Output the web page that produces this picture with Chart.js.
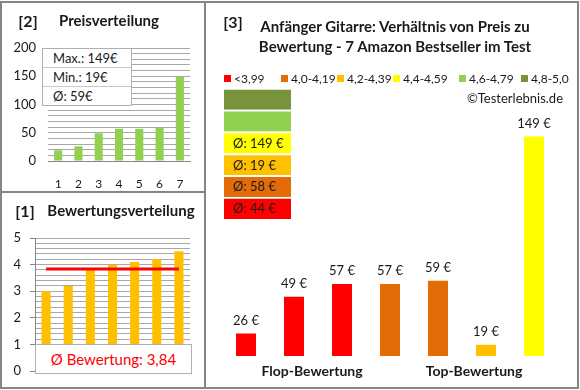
<!DOCTYPE html>
<html>
<head>
<meta charset="utf-8">
<script src="https://cdn.jsdelivr.net/npm/chart.js@4/dist/chart.umd.min.js"></script>
<style>
  body { margin: 0; background: #fff; font-family: Lato, 'Open Sans', sans-serif; color: #1a1a1a; }
  #wrap { position: relative; width: 580px; height: 390px; overflow: hidden; }
  .abs { position: absolute; }
  .line { position: absolute; background: #858585; }
  .h { font-weight: bold; font-size: 15px; white-space: nowrap; }
  .c { transform: translate(-50%, -50%); }
  #infoBox { left: 42px; top: 48px; width: 88px; background: #fff; border: 1px solid #b0b0b0; font-size: 13px; }
  #infoBox div { height: 18px; line-height: 18px; padding-left: 10px; border-top: 1px solid #c8c8c8; }
  #infoBox div:first-child { border-top: none; }
  #avgBox { left: 35px; top: 344px; width: 155px; height: 28px; background: #fff; border: 1px solid #b0b0b0;
            color: #ff0000; font-size: 15px; text-align: center; line-height: 28px; }
  .lg { position: absolute; top: 71px; font-size: 12px; white-space: nowrap; }
  .lg span { display: inline-block; width: 7px; height: 7px; margin-right: 3px; vertical-align: 1px; }
</style>
</head>
<body>
<div id="wrap">
  <canvas id="priceChart" class="abs" width="204" height="191" style="left:0;top:0"></canvas>
  <canvas id="ratingChart" class="abs" width="204" height="195" style="left:0;top:193px"></canvas>
  <canvas id="mainChart" class="abs" width="370" height="384" style="left:207px;top:3px"></canvas>
  <canvas id="bandChart" class="abs" width="67" height="131" style="left:224px;top:88px"></canvas>

  <div class="line" style="left:1px;top:1px;width:578px;height:2px"></div>
  <div class="line" style="left:1px;top:387px;width:578px;height:2px"></div>
  <div class="line" style="left:0;top:1px;width:2px;height:388px"></div>
  <div class="line" style="left:577px;top:1px;width:2px;height:388px"></div>
  <div class="line" style="left:204px;top:1px;width:2px;height:388px"></div>
  <div class="line" style="left:1px;top:191px;width:204px;height:2px"></div>

  <div class="abs h c" style="left:28px;top:20px;font-size:16px">[2]</div>
  <div class="abs h c" style="left:109px;top:20px">Preisverteilung</div>
  <div class="abs h c" style="left:25px;top:210px;font-size:16px">[1]</div>
  <div class="abs h c" style="left:121px;top:210px">Bewertungsverteilung</div>
  <div class="abs h c" style="left:233px;top:21px;font-size:16px">[3]</div>
  <div class="abs h c" style="left:395px;top:26px">Anfänger Gitarre: Verhältnis von Preis zu</div>
  <div class="abs h c" style="left:395px;top:46px">Bewertung - 7 Amazon Bestseller im Test</div>
  <div class="abs" style="right:17px;top:90px;font-size:13px">©Testerlebnis.de</div>
  <div class="abs h c" style="left:312px;top:370px;font-size:14px">Flop-Bewertung</div>
  <div class="abs h c" style="left:474px;top:370px;font-size:14px">Top-Bewertung</div>

  <div id="infoBox" class="abs"></div>
  <div id="avgBox" class="abs"></div>
  <div id="legend"></div>
</div>

<script>
// products sorted by rating (flop -> top)
const prices = [26, 49, 57, 57, 59, 19, 149];
const ratings = [3.0, 3.2, 3.8, 4.0, 4.1, 4.2, 4.5];
const avgRating = 3.84;

// price distribution (sorted ascending)
const priceLabels = ['1', '2', '3', '4', '5', '6', '7'];
const pricesSorted = [19, 26, 49, 57, 57, 59, 149];
const priceStats = ['Max.: 149€', 'Min.: 19€', 'Ø: 59€'];

// rating bands
const bandLabels = ['<3,99', '4,0-4,19', '4,2-4,39', '4,4-4,59', '4,6-4,79', '4,8-5,0'];
const bandLimits = [4.0, 4.2, 4.4, 4.6, 4.8, 5.01];
const bandColors = ['#ff0000', '#e36c09', '#ffc000', '#ffff00', '#92d050', '#77933c'];
const bandAvgPrice = [44, 58, 19, 149, null, null];

const gridGray = '#a8a8a8';
const axisGray = '#868686';
const textColor = '#1a1a1a';
const font = 'Lato';
const legendLeft = [224, 281, 337, 393, 459, 521];

Chart.defaults.font.family = font;
Chart.defaults.color = textColor;
Chart.defaults.animation = false;
Chart.defaults.responsive = false;
Chart.defaults.plugins.legend.display = false;
Chart.defaults.plugins.tooltip.enabled = false;

const near = (v) => Math.abs(v - Math.round(v)) < 1e-6;

// html bits
document.getElementById('infoBox').innerHTML = priceStats.map((s) => `<div>${s}</div>`).join('');
document.getElementById('avgBox').textContent = `Ø Bewertung: ${avgRating.toFixed(2).replace('.', ',')}`;
document.getElementById('legend').innerHTML = bandLabels.map((l, i) =>
  `<div class="lg" style="left:${legendLeft[i]}px"><span style="background:${bandColors[i]}"></span>${l}</div>`).join('');

// [2] Preisverteilung
new Chart(document.getElementById('priceChart'), {
  type: 'bar',
  data: { labels: priceLabels, datasets: [{ data: pricesSorted, backgroundColor: '#92d050', barPercentage: 0.4, categoryPercentage: 1 }] },
  options: {
    devicePixelRatio: 1,
    layout: { padding: { top: 48, right: 14, left: 0, bottom: 0 } },
    scales: {
      x: {
        grid: { display: false }, border: { color: axisGray, width: 1 },
        ticks: { padding: 8, font: { size: 12 } },
        afterFit: (s) => { s.height = 30; }
      },
      y: {
        min: 0, max: 200,
        grid: { color: gridGray, drawTicks: false },
        border: { display: false },
        ticks: { stepSize: 10, autoSkip: false, padding: 12, font: { size: 13 },
                 callback: (v) => (v % 50 === 0 ? v : '') },
        afterFit: (s) => { s.width = 48; }
      }
    }
  }
});

// [1] Bewertungsverteilung
new Chart(document.getElementById('ratingChart'), {
  type: 'bar',
  data: {
    labels: priceLabels,
    datasets: [
      { type: 'line', data: ratings.map(() => avgRating), borderColor: '#ff0000', borderWidth: 3, pointRadius: 0 },
      { data: ratings, backgroundColor: '#ffc000', barPercentage: 0.41, categoryPercentage: 1 }
    ]
  },
  options: {
    devicePixelRatio: 1,
    layout: { padding: { top: 45, right: 14, left: 0, bottom: 15 } },
    scales: {
      x: { display: false },
      y: {
        min: 0, max: 5,
        grid: { color: gridGray, tickLength: 5, tickColor: (c) => (near(c.tick.value) ? axisGray : 'rgba(0,0,0,0)') },
        border: { color: axisGray },
        ticks: { stepSize: 0.2, autoSkip: false, padding: 9, font: { size: 13 },
                 callback: (v) => (near(v) ? Math.round(v) : '') },
        afterFit: (s) => { s.width = 35; }
      }
    }
  }
});

// [3] Preis zu Bewertung
const barLabels = {
  id: 'barLabels',
  afterDatasetsDraw(chart) {
    const ctx = chart.ctx;
    ctx.save();
    ctx.font = `13px ${font}`;
    ctx.fillStyle = textColor;
    ctx.textAlign = 'center';
    ctx.textBaseline = 'middle';
    chart.getDatasetMeta(0).data.forEach((bar, i) => {
      ctx.fillText(`${prices[i]} €`, bar.x, bar.y - 13);
    });
    ctx.restore();
  }
};

const colorFor = (r) => bandColors[bandLimits.findIndex((lim) => r < lim)];

new Chart(document.getElementById('mainChart'), {
  type: 'bar',
  data: {
    labels: prices.map((p, i) => String(i + 1)),
    datasets: [{ data: prices, backgroundColor: ratings.map(colorFor), barPercentage: 0.417, categoryPercentage: 1 }]
  },
  options: {
    devicePixelRatio: 1,
    layout: { padding: { top: 116, right: 19, left: 15, bottom: 31 } },
    scales: {
      x: { display: false },
      y: { display: false, min: 12, max: 160 }
    }
  },
  plugins: [barLabels]
});

// rating band boxes with average prices
const bandText = {
  id: 'bandText',
  afterDatasetsDraw(chart) {
    const ctx = chart.ctx;
    ctx.save();
    ctx.font = `13px ${font}`;
    ctx.fillStyle = textColor;
    ctx.textBaseline = 'middle';
    chart.data.datasets.forEach((ds, i) => {
      if (bandAvgPrice[i] == null) return;
      const el = chart.getDatasetMeta(i).data[0];
      ctx.fillText(`Ø: ${bandAvgPrice[i]} €`, el.x - el.width / 2 + 9, (el.y + el.base) / 2 + 1);
    });
    ctx.restore();
  }
};

new Chart(document.getElementById('bandChart'), {
  type: 'bar',
  data: {
    labels: [''],
    datasets: bandColors.map((c, i) => ({
      label: bandLabels[i], data: [1], backgroundColor: c,
      borderColor: '#ffffff', borderWidth: { top: 2, bottom: 0, left: 0, right: 0 }, borderSkipped: false,
      barPercentage: 1, categoryPercentage: 1
    }))
  },
  options: {
    devicePixelRatio: 1,
    layout: { padding: 0 },
    scales: {
      x: { display: false, stacked: true },
      y: { display: false, stacked: true, min: 0, max: bandColors.length }
    }
  },
  plugins: [bandText]
});
</script>
</body>
</html>
